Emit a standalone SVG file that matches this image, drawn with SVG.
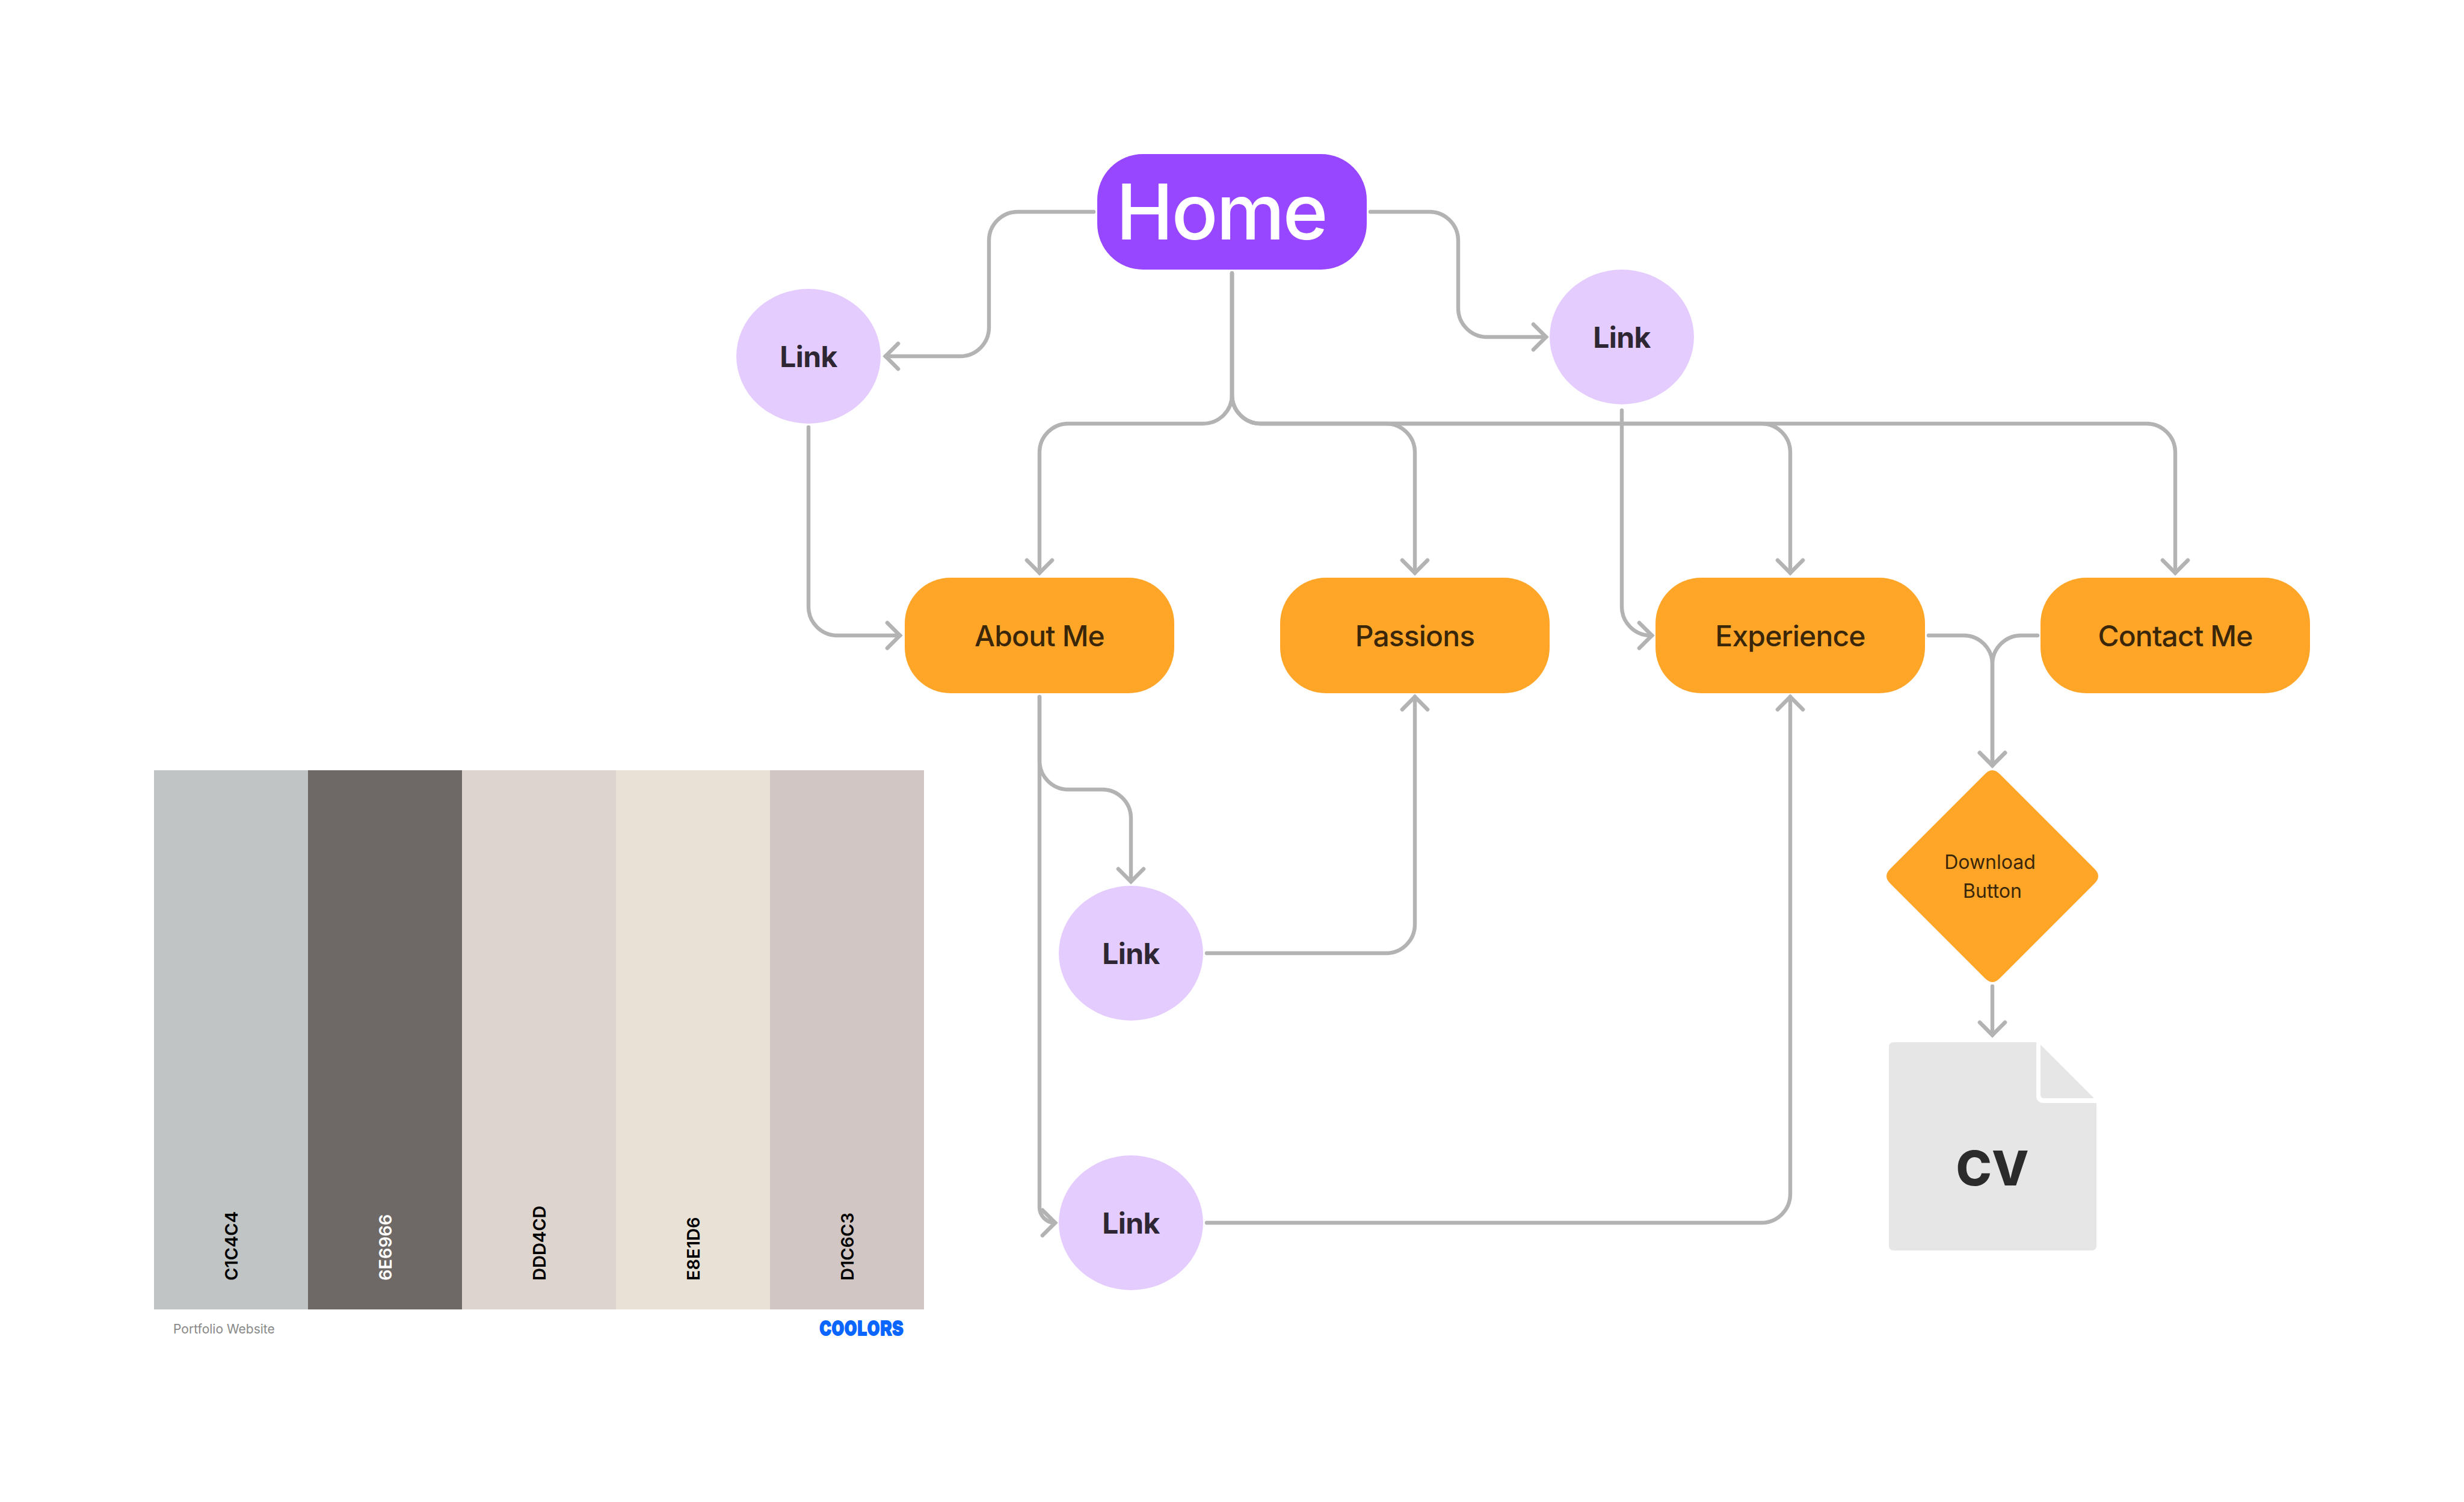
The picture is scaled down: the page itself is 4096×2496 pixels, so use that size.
<svg xmlns="http://www.w3.org/2000/svg" width="4096" height="2496" viewBox="0 0 4096 2496">
<style>
text{font-family:Inter,"Liberation Sans",sans-serif}
.orange{fill:#ffa629}
.link{fill:#e4ccff}
.lt{font-size:48px;font-weight:700;fill:#2e2633;text-anchor:middle;letter-spacing:-0.6px}
.ot{font-size:48px;font-weight:500;fill:#3a2608;text-anchor:middle;letter-spacing:-0.85px}
.dt{font-size:32px;font-weight:400;fill:#3a2608;text-anchor:middle}
.c{fill:none;stroke:#b3b3b3;stroke-width:6.4;stroke-linecap:round;marker-end:url(#arrow)}
.hex{font-size:29px;font-weight:600;text-anchor:start}
</style>
<defs>
<marker id="arrow" markerUnits="userSpaceOnUse" markerWidth="60" markerHeight="60" refX="30" refY="30" orient="auto" viewBox="0 0 60 60">
<path d="M9 9L30 30L9 51" fill="none" stroke="#b3b3b3" stroke-width="6.6" stroke-linecap="round" stroke-linejoin="miter"/>
</marker>
</defs>
<rect width="4096" height="2496" fill="#ffffff"/>
<g id="palette">
<rect x="256" y="1280" width="256" height="896" fill="#c1c4c4"/>
<rect x="512" y="1280" width="256" height="896" fill="#6e6966"/>
<rect x="768" y="1280" width="256" height="896" fill="#ddd4cd"/>
<rect x="1024" y="1280" width="256" height="896" fill="#e8e1d6"/>
<rect x="1280" y="1280" width="256" height="896" fill="#d1c6c3"/>
<text class="hex" transform="translate(395 2128) rotate(-90)" fill="#000000">C1C4C4</text>
<text class="hex" transform="translate(651 2128) rotate(-90)" fill="#ffffff">6E6966</text>
<text class="hex" transform="translate(907 2128) rotate(-90)" fill="#000000">DDD4CD</text>
<text class="hex" transform="translate(1163 2128) rotate(-90)" fill="#000000">E8E1D6</text>
<text class="hex" transform="translate(1419 2128) rotate(-90)" fill="#000000">D1C6C3</text>
<text x="288" y="2216" font-size="21" fill="#888888">Portfolio Website</text>
<text x="1362" y="2219" font-size="44" font-weight="700" fill="#0a66ff" stroke="#0a66ff" stroke-width="2" stroke-linejoin="round" style="font-variant:small-caps" textLength="140" lengthAdjust="spacingAndGlyphs">coolors</text>
</g>
<g id="connectors">
<path class="c" d="M1818 352H1692A48 48 0 0 0 1644 400V544A48 48 0 0 1 1596 592H1472"/>
<path class="c" d="M2278 352H2376A48 48 0 0 1 2424 400V512A48 48 0 0 0 2472 560H2570"/>
<path class="c" d="M2048 454V656A48 48 0 0 1 2000 704H1776A48 48 0 0 0 1728 752V952"/>
<path class="c" d="M2048 454V656A48 48 0 0 0 2096 704H2304A48 48 0 0 1 2352 752V952"/>
<path class="c" d="M2048 454V656A48 48 0 0 0 2096 704H2928A48 48 0 0 1 2976 752V952"/>
<path class="c" d="M2048 454V656A48 48 0 0 0 2096 704H3568A48 48 0 0 1 3616 752V952"/>
<path class="c" d="M1344 710V1008A48 48 0 0 0 1392 1056H1496"/>
<path class="c" d="M2696 682V1008A48 48 0 0 0 2744 1056H2746"/>
<path class="c" d="M3206 1056H3264A48 48 0 0 1 3312 1104V1272"/>
<path class="c" d="M3387 1056H3360A48 48 0 0 0 3312 1104V1272"/>
<path class="c" d="M3312 1639V1720"/>
<path class="c" d="M1728 1158V1264A48 48 0 0 0 1776 1312H1832A48 48 0 0 1 1880 1360V1465"/>
<path class="c" d="M1728 1158V2006A26 26 0 0 0 1754 2032"/>
<path class="c" d="M2006 1584H2304A48 48 0 0 0 2352 1536V1158"/>
<path class="c" d="M2006 2032H2928A48 48 0 0 0 2976 1984V1158"/>
</g>
<g id="home">
<rect x="1824" y="256" width="448" height="192" rx="76" fill="#9747ff"/>
<text x="2030" y="398" font-size="128" font-weight="500" fill="#ffffff" text-anchor="middle" letter-spacing="-3">Home</text>
</g>
<g id="link-left"><ellipse class="link" cx="1344" cy="592" rx="120" ry="112"/><text class="lt" x="1344" y="610">Link</text></g>
<g id="link-right"><ellipse class="link" cx="2696" cy="560" rx="120" ry="112"/><text class="lt" x="2696" y="578">Link</text></g>
<g id="link-mid"><ellipse class="link" cx="1880" cy="1584" rx="120" ry="112"/><text class="lt" x="1880" y="1602">Link</text></g>
<g id="link-low"><ellipse class="link" cx="1880" cy="2032" rx="120" ry="112"/><text class="lt" x="1880" y="2050">Link</text></g>
<g id="about"><rect class="orange" x="1504" y="960" width="448" height="192" rx="76"/><text class="ot" x="1728" y="1074">About Me</text></g>
<g id="passions"><rect class="orange" x="2128" y="960" width="448" height="192" rx="76"/><text class="ot" x="2352" y="1074">Passions</text></g>
<g id="experience"><rect class="orange" x="2752" y="960" width="448" height="192" rx="76"/><text class="ot" x="2976" y="1074">Experience</text></g>
<g id="contact"><rect class="orange" x="3392" y="960" width="448" height="192" rx="76"/><text class="ot" x="3616" y="1074">Contact Me</text></g>
<g id="download">
<path class="orange" d="M3300 1286Q3312 1274 3324 1286L3482 1444Q3494 1456 3482 1468L3324 1626Q3312 1638 3300 1626L3142 1468Q3130 1456 3142 1444Z"/>
<text class="dt" x="3308" y="1444">Download</text>
<text class="dt" x="3312" y="1492">Button</text>
</g>
<g id="cv">
<path d="M3148 1732H3385V1820Q3385 1833 3398 1833H3485V2070Q3485 2078 3477 2078H3148Q3140 2078 3140 2070V1740Q3140 1732 3148 1732Z" fill="#e6e6e6"/>
<path d="M3392 1736L3481 1825H3398Q3392 1825 3392 1819Z" fill="#e6e6e6"/>
<text x="3312" y="1970" font-size="80" font-weight="800" fill="#2b2b2b" text-anchor="middle">CV</text>
</g>
</svg>
